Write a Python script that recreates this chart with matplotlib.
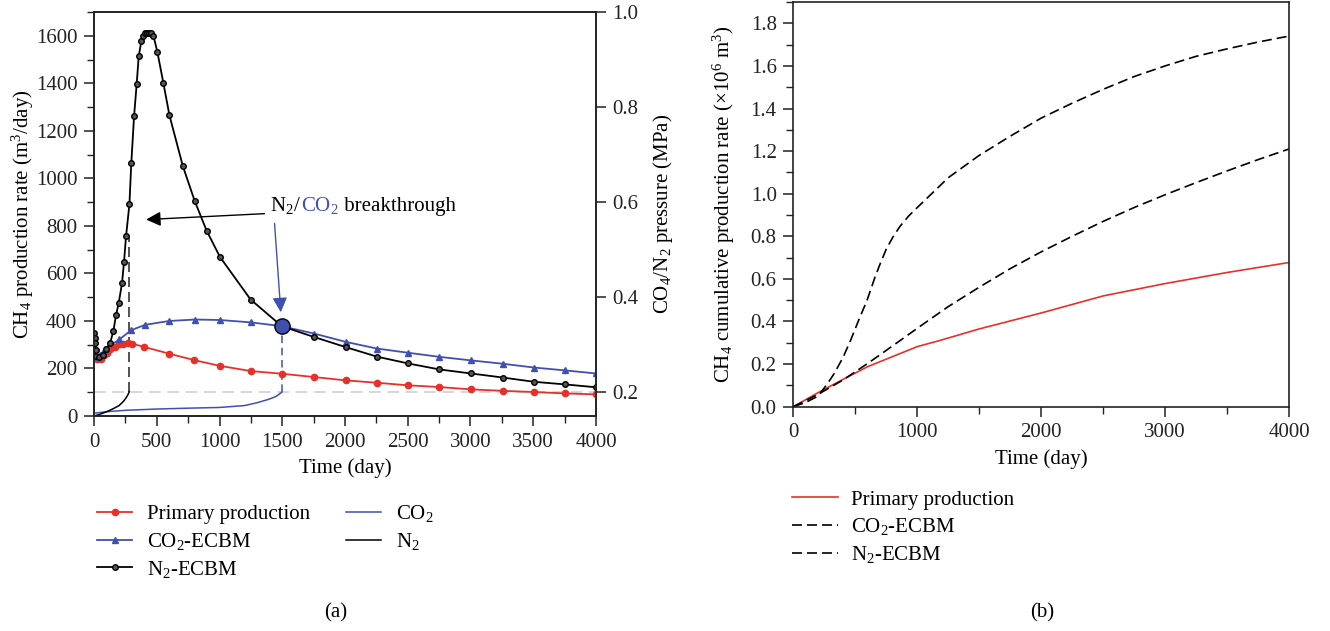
import numpy as np
import matplotlib
matplotlib.use("Agg")
import matplotlib.pyplot as plt
from matplotlib.ticker import MultipleLocator, FormatStrFormatter
from matplotlib.offsetbox import TextArea, HPacker, AnnotationBbox

plt.rcParams['font.family'] = ['Liberation Serif', 'DejaVu Serif']
plt.rcParams['font.size'] = 15
plt.rcParams['mathtext.fontset'] = 'custom'
plt.rcParams['mathtext.rm'] = 'Liberation Serif'
plt.rcParams['mathtext.it'] = 'Liberation Serif:italic'

RED = '#e8302a'
BLUE = '#4050b0'

# ---- (a) CH4 production rate (m3/day) ----
t_prim = [0, 27, 53, 80, 101, 130, 167, 202, 234, 274, 300, 398, 601, 800, 1004, 1251,
          1496, 1753, 2006, 2253, 2505, 2752, 3004, 3256, 3506, 3753, 4000]
q_prim = [245, 238, 242, 255, 266, 280, 291, 301, 305, 308, 305, 291, 262, 235, 211, 189,
          178, 164, 150, 140, 129, 122, 112, 106, 101, 95, 91]

t_co2 = [0, 8, 20, 45, 88, 202, 295, 409, 601, 805, 1004, 1251, 1496, 1753, 2006, 2253,
         2505, 2752, 3004, 3256, 3506, 3753, 4000]
q_co2 = [320, 290, 250, 255, 282, 322, 361, 384, 400, 406, 404, 394, 378, 347, 312, 284,
         266, 249, 234, 220, 204, 192, 179]

t_n2 = [0, 4, 8, 12, 18, 42, 69, 96, 128, 154, 175, 197, 223, 239, 255, 282, 297, 319,
        340, 356, 377, 393, 409, 425, 441, 457, 473, 505, 553, 601, 707, 802, 898, 1004,
        1248, 1496, 1750, 2005, 2253, 2505, 2752, 3004, 3256, 3506, 3753, 4000]
q_n2 = [349, 328, 307, 277, 252, 248, 256, 281, 307, 357, 424, 476, 559, 648, 756, 891,
        1064, 1261, 1398, 1513, 1577, 1601, 1611, 1613, 1613, 1611, 1601, 1531, 1400,
        1265, 1053, 905, 779, 669, 490, 378, 333, 290, 250, 221, 196, 179, 162, 144, 133, 121]

# injected gas pressure (MPa)
t_p_co2 = [0, 100, 250, 500, 750, 1000, 1200, 1300, 1390, 1450, 1496]
p_co2 = [0.156, 0.159, 0.162, 0.1647, 0.1665, 0.168, 0.172, 0.178, 0.185, 0.191, 0.200]
t_p_n2 = [0, 50, 100, 150, 200, 235, 255, 268, 276, 281]
p_n2 = [0.150, 0.154, 0.159, 0.165, 0.172, 0.181, 0.188, 0.194, 0.198, 0.201]

t_break_n2, t_break_co2 = 281, 1496

# ---- (b) cumulative production (x10^6 m3) ----
t_cum_prim = [0, 200, 400, 600, 800, 1000, 1177, 1500, 2000, 2500, 3000, 3500, 4000]
cum_prim = [0, 0.066, 0.128, 0.188, 0.235, 0.282, 0.31, 0.365, 0.44, 0.52, 0.578, 0.63, 0.677]
t_cum_co2 = [0, 200, 400, 600, 800, 1000, 1250, 1500, 1750, 2000, 2250, 2500, 2750,
             3000, 3250, 3500, 3750, 4000]
cum_co2 = [0, 0.058, 0.125, 0.203, 0.285, 0.368, 0.47, 0.561, 0.648, 0.727, 0.800, 0.870,
           0.935, 0.995, 1.052, 1.107, 1.16, 1.21]
t_cum_n2 = [0, 100, 200, 278, 331, 400, 463, 530, 595, 660, 700, 750, 807, 860, 930, 1000,
            1250, 1500, 1750, 2000, 2250, 2500, 2750, 3000, 3250, 3500, 3750, 4000]
cum_n2 = [0, 0.02, 0.05, 0.11, 0.157, 0.23, 0.313, 0.41, 0.50, 0.61, 0.67, 0.74, 0.80,
          0.846, 0.895, 0.935, 1.075, 1.18, 1.27, 1.355, 1.425, 1.49, 1.55, 1.60, 1.645,
          1.68, 1.712, 1.74]

fig = plt.figure(figsize=(13.3, 6.31), dpi=100)
ax = fig.add_axes([0.0707, 0.3407, 0.3774, 0.6403])
ax2 = ax.twinx()
axb = fig.add_axes([0.5965, 0.3555, 0.3727, 0.6413])

# pressure axis maps 0.15..1.0 onto 0..1700
ax.set_xlim(0, 4000)
ax.set_ylim(0, 1700)
ax2.set_ylim(0.15, 1.0)

ax.axhline(100, color='#cfcfcf', lw=1.2, dashes=(7, 4), zorder=1)

l_prim, = ax.plot(t_prim, q_prim, color=RED, lw=1.3, marker='o', ms=4.5, zorder=3)
l_co2, = ax.plot(t_co2, q_co2, color=BLUE, lw=1.3, marker='^', ms=5, zorder=3)
l_n2, = ax.plot(t_n2, q_n2, color='k', lw=1.3, marker='o', ms=4, mfc='#555555',
                mec='k', mew=1.0, zorder=4)
ax.plot([t_break_co2], [378], 'o', ms=11, mfc=BLUE, mec='k', mew=1.0, zorder=5)

lp_co2, = ax2.plot(t_p_co2, p_co2, color=BLUE, lw=1.1)
lp_n2, = ax2.plot(t_p_n2, p_n2, color='k', lw=1.1)

ax.plot([t_break_n2, t_break_n2], [100, 760], color='#333333', lw=1.2, dashes=(6, 3))
ax.plot([t_break_co2, t_break_co2], [100, 378], color=BLUE, lw=1.1, dashes=(5, 3))

ax.annotate('', xy=(393, 826), xytext=(1380, 852),
            arrowprops=dict(arrowstyle='-|>', color='k', lw=1.0, mutation_scale=22))
ax.annotate('', xy=(1490, 425), xytext=(1437, 822),
            arrowprops=dict(arrowstyle='-|>', color=BLUE, lw=1.0, mutation_scale=22))

parts = [TextArea('N$_2$/', textprops=dict(color='k', size=15)),
         TextArea('CO$_2$', textprops=dict(color=BLUE, size=15)),
         TextArea(' breakthrough', textprops=dict(color='k', size=15))]
box = HPacker(children=parts, align='baseline', pad=0, sep=0)
ab = AnnotationBbox(box, (1405, 887), xycoords='data', box_alignment=(0, 0.5),
                    frameon=False, pad=0)
ax.add_artist(ab)

ax.xaxis.set_major_locator(MultipleLocator(500))
ax.xaxis.set_minor_locator(MultipleLocator(250))
ax.yaxis.set_major_locator(MultipleLocator(200))
ax.yaxis.set_minor_locator(MultipleLocator(100))
ax2.set_yticks([0.2, 0.4, 0.6, 0.8, 1.0])

ax.set_xlabel('Time (day)', labelpad=5)
ax.set_ylabel('CH$_4$ production rate (m$^3$/day)', labelpad=0)
ax2.set_ylabel('CO$_4$/N$_2$ pressure (MPa)', labelpad=9)

# ---- (b) ----
axb.set_xlim(0, 4000)
axb.set_ylim(0, 1.9)
lc_prim, = axb.plot(t_cum_prim, cum_prim, color=RED, lw=1.2)
lc_co2, = axb.plot(t_cum_co2, cum_co2, color='k', lw=1.2, dashes=(6, 3))
lc_n2, = axb.plot(t_cum_n2, cum_n2, color='k', lw=1.2, dashes=(6, 3))
axb.xaxis.set_major_locator(MultipleLocator(1000))
axb.xaxis.set_minor_locator(MultipleLocator(500))
axb.yaxis.set_major_locator(MultipleLocator(0.2))
axb.yaxis.set_minor_locator(MultipleLocator(0.1))
axb.yaxis.set_major_formatter(FormatStrFormatter('%.1f'))
axb.set_xlabel('Time (day)', labelpad=5)
axb.set_ylabel(r'CH$_4$ cumulative production rate ($\times$10$^6$ m$^3$)', labelpad=10)

for a in (ax, ax2, axb):
    for s in a.spines.values():
        s.set_linewidth(1.2)
        s.set_color('#222222')
    a.tick_params(which='major', direction='out', length=7, width=1.1, pad=5,
                  colors='#222222', labelcolor='#222222')
    a.tick_params(which='minor', direction='out', length=5, width=1.0, colors='#222222')

# legends
fig.legend([l_prim, l_co2, l_n2, lp_co2, lp_n2],
           ['Primary production', 'CO$_2$-ECBM', 'N$_2$-ECBM', 'CO$_2$', 'N$_2$'],
           loc='upper left', bbox_to_anchor=(97 / 1330, 1 - 503 / 631), ncol=2,
           frameon=False, borderaxespad=0, borderpad=0, handlelength=1.7,
           handletextpad=0.72, labelspacing=0.33, columnspacing=1.7, fontsize=15)
fig.legend([lc_prim, lc_co2, lc_n2],
           ['Primary production', 'CO$_2$-ECBM', 'N$_2$-ECBM'],
           loc='upper left', bbox_to_anchor=(792 / 1330, 1 - 490 / 631),
           frameon=False, borderaxespad=0, borderpad=0, handlelength=2.2,
           handletextpad=0.62, labelspacing=0.33, fontsize=15)

fig.text(336 / 1330, 1 - 613 / 631, '(a)', ha='center', va='center', fontsize=15)
fig.text(1042 / 1330, 1 - 613 / 631, '(b)', ha='center', va='center', fontsize=15)

fig.savefig('out.png', dpi=100)
